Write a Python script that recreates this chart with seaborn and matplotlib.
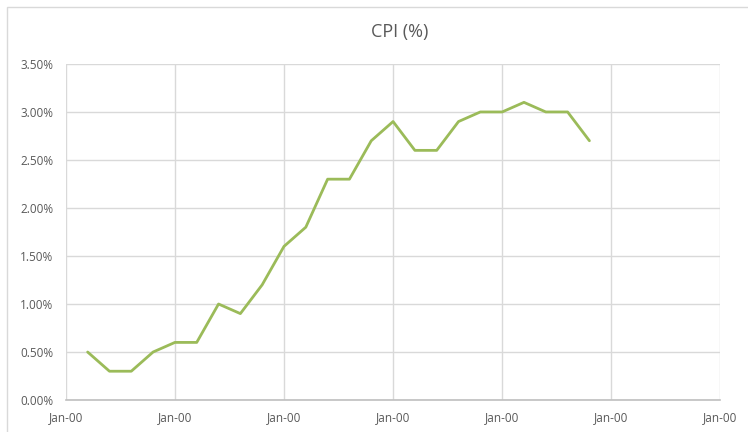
import numpy as np
import pandas as pd
import matplotlib
matplotlib.use("Agg")
import matplotlib.pyplot as plt
import seaborn as sns
from matplotlib.ticker import PercentFormatter

# CPI values (%), one per period
cpi = [0.5, 0.3, 0.3, 0.5, 0.6, 0.6, 1.0, 0.9, 1.2, 1.6, 1.8, 2.3,
       2.3, 2.7, 2.9, 2.6, 2.6, 2.9, 3.0, 3.0, 3.1, 3.0, 3.0, 2.7]
period = list(range(1, len(cpi) + 1))
tick_pos = [0, 5, 10, 15, 20, 25, 30]
tick_labels = ["Jan-00"] * len(tick_pos)

df = pd.DataFrame({"period": period, "cpi": cpi})

sns.set_style("white")
plt.rcParams['font.family'] = ['Open Sans', 'DejaVu Sans']

fig = plt.figure(figsize=(7.48, 4.32), dpi=100)
ax = fig.add_axes([0.088, 0.074, 0.875, 0.778])

sns.lineplot(data=df, x="period", y="cpi", color="#9bbb59", linewidth=2, ax=ax)

ax.set_xlim(0, 30)
ax.set_ylim(0, 3.5)
ax.set_xticks(tick_pos)
ax.set_xticklabels(tick_labels)
ax.set_yticks(np.arange(0, 3.51, 0.5))
ax.yaxis.set_major_formatter(PercentFormatter(decimals=2))
ax.grid(True, color="#d9d9d9", linewidth=1)
ax.set_axisbelow(True)
ax.set_xlabel("")
ax.set_ylabel("")
ax.tick_params(axis="both", length=0, labelsize=8.5, labelcolor="#595959")
ax.tick_params(axis="y", pad=9)
ax.tick_params(axis="x", pad=8)

for s in ["left", "top", "right"]:
    ax.spines[s].set_visible(False)
ax.spines["bottom"].set_color("#bfbfbf")
ax.spines["bottom"].set_linewidth(1.2)

fig.text(0.535, 0.925, "CPI (%)", ha="center", va="center", fontsize=13, color="#595959")

# chart border like the spreadsheet frame
fig.add_artist(plt.Rectangle((7 / 748, -0.01), 1.0, 1.0 - 7 / 432 + 0.01,
                             transform=fig.transFigure, fill=False,
                             edgecolor="#d9d9d9", linewidth=1))

fig.savefig("out.png", dpi=100)
